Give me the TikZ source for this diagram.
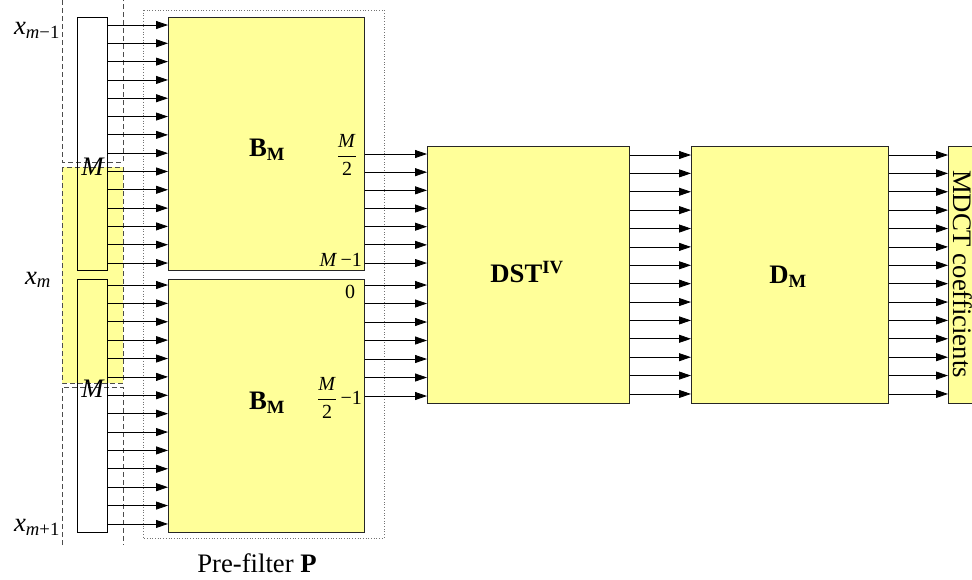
\documentclass[tikz,border=0pt]{standalone}
\usepackage{fontspec}
\setmainfont{Liberation Serif}
\usetikzlibrary{arrows.meta}
\definecolor{boxyellow}{HTML}{FFFF99}
\begin{document}
\begin{tikzpicture}[x=1pt,y=-1pt,
  font=\fontsize{26.7}{32}\selectfont,
  blk/.style={draw=black!85, line width=0.8pt, fill=boxyellow, anchor=north west, inner sep=0pt},
  wbox/.style={draw=black, line width=0.8pt, anchor=north west, inner sep=0pt},
  arr/.style={line width=0.8pt, -{Triangle[length=12pt,width=8pt]}},
  grp/.style={draw=black!70, line width=0.8pt, dash pattern=on 5pt off 3pt},
  port/.style={font=\fontsize{20}{24}\selectfont, inner sep=0pt}]
\clip (0,0) rectangle (972,579);
% grouping of input blocks
\fill[boxyellow] (62,167) rectangle (123,383);
\draw[grp] (62,167) rectangle (123,383);
\draw[grp] (62,0) -- (62,162) -- (123,162) -- (123,0);
\draw[grp] (62,545) -- (62,387) -- (123,387) -- (123,545);
% pre-filter frame
\draw[black!55, dotted, line width=0.7pt] (143,10) rectangle (384,538);
% white input boxes
\node[wbox, minimum width=30pt, minimum height=253pt] (wb1) at (77,17) {};
\node[wbox, minimum width=30pt, minimum height=253pt] (wb2) at (77,279) {};
% blocks
\node[blk, minimum width=196pt, minimum height=253pt] (bu) at (168,17) {};
\node[blk, minimum width=196pt, minimum height=253pt] (bl) at (168,279) {};
\node[blk, minimum width=202pt, minimum height=257pt] (dst) at (427,146) {};
\node[blk, minimum width=197pt, minimum height=257pt] (dm) at (691,146) {};
\node[blk, minimum width=30pt, minimum height=257pt] (mdct) at (948,146) {};
% block labels
\node (lbu) at (267,150) {\textbf{B}\textsubscript{\textbf{M}}};
\node (lbl) at (267,403) {\textbf{B}\textsubscript{\textbf{M}}};
\node (ldst) at (527,272) {\textbf{DST}\textsuperscript{\textbf{IV}}};
\node (ldm) at (788,277) {\textbf{D}\textsubscript{\textbf{M}}};
\node[rotate=-90] (lmdct) at (963,274) {MDCT coefficients};
\node (pre) at (257,563) {Pre-filter \textbf{P}};
% input labels
\node (xa) at (37,30) {\textit{x}\textsubscript{\textit{m}−1}};
\node (xb) at (38,280) {\textit{x}\textsubscript{\textit{m}}};
\node (xc) at (37,527) {\textit{x}\textsubscript{\textit{m}+1}};
\node[inner sep=0pt] (ma) at (93,167) {\textit{M}};
\node[inner sep=0pt] (mb) at (93,389) {\textit{M}};
% port labels
\node[port] (p1) at (347,155) {$\displaystyle\frac{\mbox{\textit{M}}}{\mbox{2}}$};
\node[port, anchor=east] (p2) at (362,260) {\textit{M}\,−1};
\node[port] (p3) at (350,292) {0};
\node[port, anchor=east] (p4) at (362,398) {$\displaystyle\frac{\mbox{\textit{M}}}{\mbox{2}}$\,−1};
% arrows into B_M
\foreach \i [evaluate=\i as \yy using 25+\i*18.31] in {0,...,13}
  \draw[arr] (wb1.east |- 0,\yy) -- (bu.west |- 0,\yy);
\foreach \i [evaluate=\i as \yy using 285+\i*18.38] in {0,...,13}
  \draw[arr] (wb2.east |- 0,\yy) -- (bl.west |- 0,\yy);
% B_M to DST
\foreach \i [evaluate=\i as \yy using 154+\i*18.17] in {0,...,6}
  \draw[arr] (bu.east |- 0,\yy) -- (dst.west |- 0,\yy);
\foreach \i [evaluate=\i as \yy using 285+\i*18.5] in {0,...,6}
  \draw[arr] (bl.east |- 0,\yy) -- (dst.west |- 0,\yy);
% DST to D and D to MDCT
\foreach \i [evaluate=\i as \yy using 155+\i*18.38] in {0,...,13}{
  \draw[arr] (dst.east |- 0,\yy) -- (dm.west |- 0,\yy);
  \draw[arr] (dm.east |- 0,\yy) -- (mdct.west |- 0,\yy);
}
\end{tikzpicture}
\end{document}
